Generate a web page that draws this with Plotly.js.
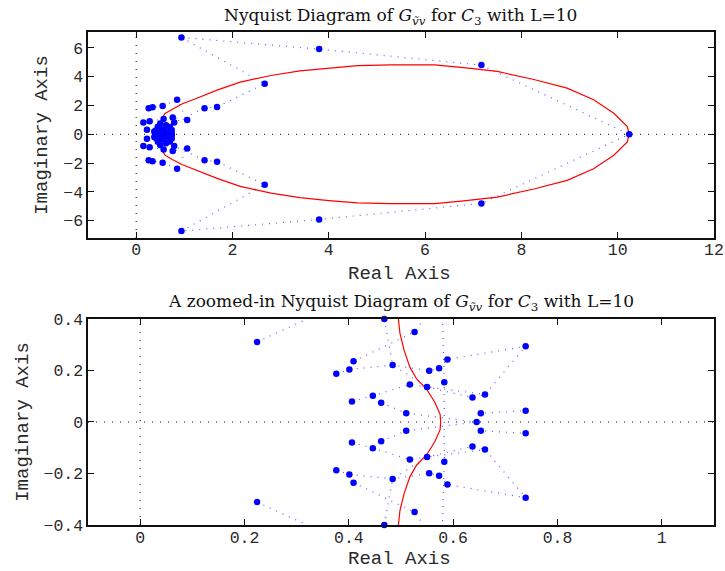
<!DOCTYPE html>
<html><head><meta charset="utf-8">
<script src="https://cdn.plot.ly/plotly-3.0.1.min.js"></script>
<style>body{margin:0;padding:0;background:#fff}#plot{width:725px;height:571px}</style>
</head><body><div id="plot"></div>
<script>
// Red Nyquist curve (closed loop, upper then lower half)
const redX = [0.576,0.575,0.565,0.549,0.530,0.517,0.506,0.498,0.495,0.500,0.510,0.530,0.600,0.750,0.950,1.260,1.680,2.160,2.800,3.400,4.000,4.600,5.300,6.200,6.800,7.500,8.260,8.950,9.500,9.920,10.200,10.240,
              10.200,9.920,9.500,8.950,8.260,7.500,6.800,6.200,5.300,4.600,4.000,3.400,2.800,2.160,1.680,1.260,0.950,0.750,0.600,0.530,0.510,0.500,0.495,0.498,0.506,0.517,0.530,0.549,0.565,0.575,0.576];
const redY = [0,0.030,0.076,0.128,0.167,0.213,0.278,0.344,0.400,0.550,0.800,1.100,1.450,1.750,2.100,2.500,3.060,3.620,4.080,4.400,4.600,4.760,4.820,4.810,4.620,4.360,3.800,3.200,2.400,1.460,0.530,0,
              -0.530,-1.460,-2.400,-3.200,-3.800,-4.360,-4.620,-4.810,-4.820,-4.760,-4.600,-4.400,-4.080,-3.620,-3.060,-2.500,-2.100,-1.750,-1.450,-1.100,-0.800,-0.550,-0.400,-0.344,-0.278,-0.213,-0.167,-0.128,-0.076,-0.030,0];

// Blue sample points far from the origin cluster
const farDotX = [0.94,3.80,7.17,10.24,7.17,3.80,0.94,
                 2.67,1.68,1.42,0.85,0.55,0.34,0.26,1.06,0.15,0.28,0.57,0.76,0.79,0.45,0.62,0.70,0.50,
                 2.67,1.68,1.42,0.85,0.55,0.34,0.26,1.06,0.15,0.28,0.57,0.76,0.79,0.45,0.62,0.70,0.50];
const farDotY = [6.72,5.91,4.80,0,-4.80,-5.91,-6.72,
                 3.50,1.90,1.81,2.39,1.97,1.88,1.81,0.99,0.81,0.90,1.06,1.16,0.81,0.52,0.62,0.50,0.75,
                 -3.50,-1.90,-1.81,-2.39,-1.97,-1.88,-1.81,-0.99,-0.81,-0.90,-1.06,-1.16,-0.81,-0.52,-0.62,-0.50,-0.75];

// Blue sample points in the zoomed cluster
const nearDotX = [0.224,0.468,0.526,0.739,0.409,0.484,0.376,0.401,0.589,0.573,0.554,0.583,0.517,0.550,0.406,0.446,0.462,0.510,0.637,0.661,0.653,0.739,
                  0.224,0.468,0.526,0.739,0.409,0.484,0.376,0.401,0.589,0.573,0.554,0.583,0.517,0.550,0.406,0.446,0.462,0.510,0.637,0.661,0.653,0.739,
                  0.645];
const nearDotY = [0.311,0.400,0.350,0.294,0.236,0.221,0.187,0.204,0.243,0.209,0.199,0.154,0.146,0.136,0.080,0.102,0.075,0.034,0.095,0.107,0.034,0.044,
                  -0.311,-0.400,-0.350,-0.294,-0.236,-0.221,-0.187,-0.204,-0.243,-0.209,-0.199,-0.154,-0.146,-0.136,-0.080,-0.102,-0.075,-0.034,-0.095,-0.107,-0.034,-0.044,
                  0];

// Dotted connecting branches
const outerX = [0.94,3.80,7.17,10.24,7.17,3.80,0.94];
const outerY = [6.72,5.91,4.80,0,-4.80,-5.91,-6.72];
const armUpX = [0.94,2.67,1.68,1.42,0.79];
const armUpY = [6.72,3.50,1.90,1.81,0.81];
const armLoX = [0.94,2.67,1.68,1.42,0.79];
const armLoY = [-6.72,-3.50,-1.90,-1.81,-0.81];
const leftUpX = [0.26,0.34,0.55,0.85,1.06,0.76];
const leftUpY = [1.81,1.88,1.97,2.39,0.99,1.16];
const leftLoX = [0.26,0.34,0.55,0.85,1.06,0.76];
const leftLoY = [-1.81,-1.88,-1.97,-2.39,-0.99,-1.16];
const innerUpX = [0.15,0.28,0.57];
const innerUpY = [0.81,0.90,1.06];
const innerLoX = [0.15,0.28,0.57];
const innerLoY = [-0.81,-0.90,-1.06];
const spokeUpX = [0.224,0.45];
const spokeUpY = [0.311,0.52];
const spokeLoX = [0.224,0.45];
const spokeLoY = [-0.311,-0.52];
const webAUpX = [0.376,0.401,0.484,0.554,0.573,0.589,0.739];
const webAUpY = [0.187,0.204,0.221,0.199,0.209,0.243,0.294];
const webALoX = [0.376,0.401,0.484,0.554,0.573,0.589,0.739];
const webALoY = [-0.187,-0.204,-0.221,-0.199,-0.209,-0.243,-0.294];
const webBUpX = [0.409,0.526,0.62];
const webBUpY = [0.236,0.350,0.62];
const webBLoX = [0.409,0.526,0.62];
const webBLoY = [-0.236,-0.350,-0.62];
const stemX = [0.57,0.583,0.583,0.57];
const stemY = [1.06,0.154,-0.154,-1.06];
const webCUpX = [0.406,0.446,0.517,0.550,0.637,0.661];
const webCUpY = [0.080,0.102,0.146,0.136,0.095,0.107];
const webCLoX = [0.406,0.446,0.517,0.550,0.637,0.661];
const webCLoY = [-0.080,-0.102,-0.146,-0.136,-0.095,-0.107];
const webDUpX = [0.462,0.510,0.645,0.653,0.739];
const webDUpY = [0.075,0.034,0,0.034,0.044];
const webDLoX = [0.462,0.510,0.645,0.653,0.739];
const webDLoY = [-0.075,-0.034,0,-0.034,-0.044];
const webEUpX = [0.468,0.484,0.550,0.661,0.739];
const webEUpY = [0.400,0.221,0.136,0.107,0.294];
const webELoX = [0.468,0.484,0.550,0.661,0.739];
const webELoY = [-0.400,-0.221,-0.136,-0.107,-0.294];

const branches = [[outerX,outerY],[armUpX,armUpY],[armLoX,armLoY],[leftUpX,leftUpY],[leftLoX,leftLoY],
  [innerUpX,innerUpY],[innerLoX,innerLoY],[spokeUpX,spokeUpY],[spokeLoX,spokeLoY],[webAUpX,webAUpY],[webALoX,webALoY],
  [webBUpX,webBUpY],[webBLoX,webBLoY],[stemX,stemY],[webCUpX,webCUpY],[webCLoX,webCLoY],[webDUpX,webDUpY],[webDLoX,webDLoY],
  [webEUpX,webEUpY],[webELoX,webELoY]];

const MONO = 'Liberation Mono, Courier New, monospace';
const SERIF = 'DejaVu Serif, serif';
const TXT = '#2a2a2a';
const traces = [];
[['x','y'],['x2','y2']].forEach(([xa,ya]) => {
  branches.forEach(([bx,by]) => traces.push({x:bx,y:by,xaxis:xa,yaxis:ya,mode:'lines',type:'scatter',
    line:{color:'rgba(40,40,255,0.75)',width:1.2,dash:'1px,6px'},hoverinfo:'skip'}));
  traces.push({x:redX,y:redY,xaxis:xa,yaxis:ya,mode:'lines',type:'scatter',line:{color:'#ff0000',width:1.2}});
});
const allX = farDotX.concat(nearDotX), allY = farDotY.concat(nearDotY);
traces.push({x:allX,y:allY,xaxis:'x',yaxis:'y',mode:'markers',type:'scatter',marker:{color:'#0000ff',size:6.5}});
const inX = [], inY = [];
allX.forEach((v,i)=>{ if(v>=-0.1 && v<=1.1 && allY[i]>=-0.401 && allY[i]<=0.401){inX.push(v);inY.push(allY[i]);} });
traces.push({x:inX,y:inY,xaxis:'x2',yaxis:'y2',mode:'markers',type:'scatter',cliponaxis:false,marker:{color:'#0000ff',size:6.5}});

function ax(extra){
  return Object.assign({showline:true,linecolor:'#111',linewidth:1.6,mirror:'ticks',ticks:'inside',ticklen:6,tickwidth:1,tickcolor:'#111',
    showgrid:false,zeroline:false,tickfont:{family:MONO,size:16.5,color:TXT}},extra);
}
const dotLine = {color:'#000',width:1,dash:'1px,7px'};
const titleFont = {family:MONO,size:19,color:TXT};
const layout = {
  width:725,height:571,margin:{l:0,r:0,t:0,b:0},paper_bgcolor:'#fff',plot_bgcolor:'#fff',showlegend:false,
  xaxis: ax({domain:[0.1214,0.9848],range:[-1,12],tick0:0,dtick:2,anchor:'y',ticklabelstandoff:-4}),
  yaxis: ax({domain:[0.5832,0.9440],range:[-7.2,7.1],tick0:0,dtick:2,anchor:'x',
    title:{text:'Imaginary Axis',font:titleFont,standoff:10}}),
  xaxis2: ax({domain:[0.1214,0.9848],range:[-0.1,1.1],tick0:0,dtick:0.2,anchor:'y2',ticklabelstandoff:-3}),
  yaxis2: ax({domain:[0.0806,0.4413],range:[-0.4,0.4],tick0:0,dtick:0.2,anchor:'x2',
    title:{text:'Imaginary Axis',font:titleFont,standoff:10}}),
  shapes:[
    {type:'line',xref:'x',yref:'y domain',x0:0,x1:0,y0:0,y1:1,line:dotLine,layer:'below'},
    {type:'line',xref:'x domain',yref:'y',x0:0,x1:1,y0:0,y1:0,line:dotLine,layer:'below'},
    {type:'line',xref:'x2',yref:'y2 domain',x0:0,x1:0,y0:0,y1:1,line:dotLine,layer:'below'},
    {type:'line',xref:'x2 domain',yref:'y2',x0:0,x1:1,y0:0,y1:0,line:dotLine,layer:'below'}
  ],
  annotations:[
    {text:'Nyquist Diagram of <i>G</i><sub><i>ṽv</i></sub> for <i>C</i><sub>3</sub> with L=10',xref:'paper',yref:'paper',
     x:0.553,y:1-16/571,xanchor:'center',yanchor:'middle',showarrow:false,font:{family:SERIF,size:17,color:'#111'}},
    {text:'A zoomed-in Nyquist Diagram of <i>G</i><sub><i>ṽv</i></sub> for <i>C</i><sub>3</sub> with L=10',xref:'paper',yref:'paper',
     x:0.553,y:1-302/571,xanchor:'center',yanchor:'middle',showarrow:false,font:{family:SERIF,size:17,color:'#111'}},
    {text:'Real Axis',xref:'paper',yref:'paper',x:0.551,y:1-274/571,xanchor:'center',yanchor:'middle',showarrow:false,font:titleFont},
    {text:'Real Axis',xref:'paper',yref:'paper',x:0.551,y:1-559/571,xanchor:'center',yanchor:'middle',showarrow:false,font:titleFont}
  ]
};
Plotly.newPlot('plot',traces,layout,{staticPlot:true,displayModeBar:false});
</script></body></html>
